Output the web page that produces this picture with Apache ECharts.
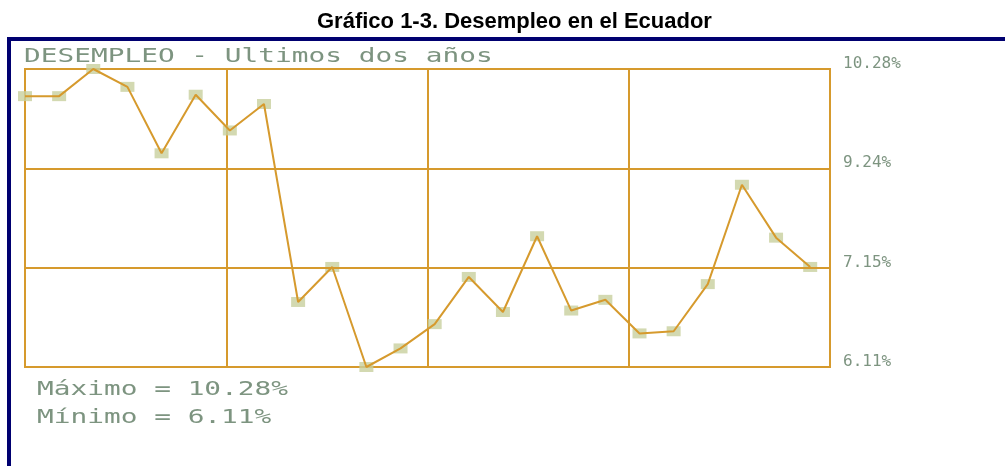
<!DOCTYPE html>
<html>
<head>
<meta charset="utf-8">
<title>Desempleo en el Ecuador</title>
<script src="https://cdn.jsdelivr.net/npm/echarts@6/dist/echarts.min.js"></script>
<style>
  html, body { margin: 0; padding: 0; background: #fff; }
  #container { width: 1005px; height: 466px; }
</style>
</head>
<body>
<div id="container"></div>
<script>
// desempleo mensual, ultimos dos años (%)
var valores = [9.90, 9.90, 10.28, 10.03, 9.10, 9.92, 9.42, 9.79,
               7.02, 7.51, 6.11, 6.37, 6.71, 7.37, 6.88, 7.94,
               6.90, 7.05, 6.58, 6.61, 7.27, 8.66, 7.92, 7.51];
var etiquetasY = ['6.11%', '7.15%', '9.24%', '10.28%'];
var tituloGrafico = 'Gráfico 1-3. Desempleo en el Ecuador';
var tituloPanel = 'DESEMPLEO - Ultimos dos años';

var yMin = 6.11, yMax = 10.28;
var lineas = [];
for (var i = 0; i < etiquetasY.length; i++) {
    lineas.push(+(yMin + i * (yMax - yMin) / (etiquetasY.length - 1)).toFixed(4));
}

var maximo = Math.max.apply(null, valores);
var minimo = Math.min.apply(null, valores);
var puntos = valores.map(function (v, i) { return [i, v]; });

var naranja = '#d69a2d';
var verdeGris = '#7d9480';
var mono = '"DejaVu Sans Mono", "Liberation Mono", monospace';

function pintar() {
    var dom = document.getElementById('container');
    var myChart = echarts.init(dom);
    var option = {
        backgroundColor: '#fff',
        animation: false,
        title: {
            text: tituloGrafico,
            left: 317,
            top: 11,
            padding: 0,
            textStyle: {
                fontFamily: '"Liberation Sans", Arial, sans-serif',
                fontWeight: 'bold',
                fontSize: 22,
                color: '#000'
            }
        },
        grid: {
            left: 25,
            top: 69,
            width: 805,
            height: 298,
            show: true,
            borderColor: naranja,
            borderWidth: 2,
            containLabel: false
        },
        xAxis: {
            type: 'value',
            min: 0,
            max: 23.58,
            interval: 5.895,
            axisLine: { show: false },
            axisTick: { show: false },
            axisLabel: { show: false },
            splitLine: { show: true, lineStyle: { color: naranja, width: 2 } }
        },
        yAxis: {
            type: 'value',
            position: 'right',
            min: yMin,
            max: yMax,
            axisLine: { show: false },
            axisTick: { show: false },
            splitLine: { show: false },
            axisLabel: {
                customValues: lineas,
                showMinLabel: true,
                showMaxLabel: true,
                margin: 13,
                fontFamily: mono,
                fontSize: 16,
                color: verdeGris,
                verticalAlign: 'bottom',
                lineHeight: 10,
                formatter: function (val) {
                    var best = 0;
                    for (var k = 1; k < lineas.length; k++) {
                        if (Math.abs(lineas[k] - val) < Math.abs(lineas[best] - val)) best = k;
                    }
                    return etiquetasY[best];
                }
            }
        },
        graphic: [
            { type: 'rect', shape: { x: 7, y: 37, width: 1000, height: 4 }, style: { fill: '#000070' } },
            { type: 'rect', shape: { x: 7, y: 37, width: 4, height: 440 }, style: { fill: '#000070' } },
            {
                type: 'text', x: 24, y: 57, scaleX: 1.39,
                style: { text: tituloPanel, font: '20px ' + mono, fill: verdeGris, verticalAlign: 'middle' }
            },
            {
                type: 'text', x: 37, y: 389.5, scaleX: 1.39,
                style: { text: 'Máximo = ' + maximo.toFixed(2) + '%', font: '20px ' + mono, fill: verdeGris, verticalAlign: 'middle' }
            },
            {
                type: 'text', x: 37, y: 418, scaleX: 1.39,
                style: { text: 'Mínimo = ' + minimo.toFixed(2) + '%', font: '20px ' + mono, fill: verdeGris, verticalAlign: 'middle' }
            }
        ],
        series: [{
            name: 'marcas',
            type: 'scatter',
            z: 2,
            symbol: 'rect',
            symbolSize: [14, 10],
            itemStyle: { color: '#c8cf9e' },
            data: puntos
        }, {
            name: 'Desempleo',
            type: 'line',
            z: 3,
            showSymbol: false,
            lineStyle: { color: naranja, width: 2 },
            data: puntos,
            markLine: {
                silent: true,
                symbol: 'none',
                label: { show: false },
                lineStyle: { color: naranja, width: 2, type: 'solid' },
                data: lineas.slice(1, lineas.length - 1).map(function (v) { return { yAxis: v }; })
            }
        }]
    };
    myChart.setOption(option, true);
}

pintar();
</script>
</body>
</html>
